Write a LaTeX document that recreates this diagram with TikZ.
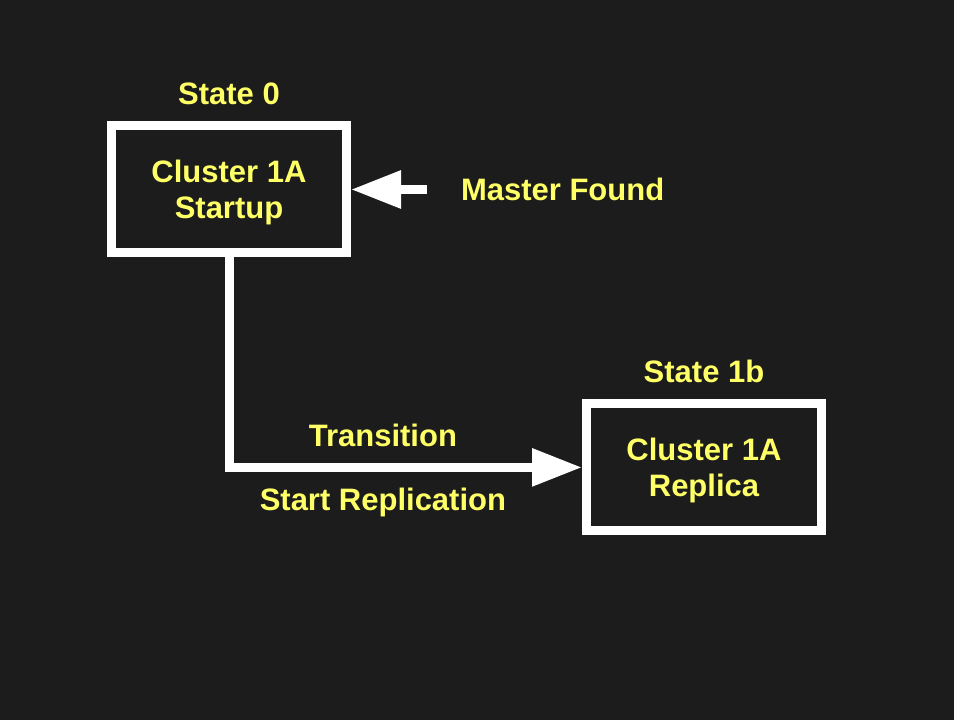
\documentclass[tikz,border=0pt]{standalone}
\usepackage{fontspec}
\setmainfont{Liberation Sans}
\usepackage{tikz}
\usetikzlibrary{positioning, arrows.meta}
\definecolor{bgdark}{HTML}{1C1C1C}
\definecolor{textyellow}{HTML}{FFFF66}
\tikzset{
    base/.style={font=\fontsize{31}{36}\selectfont\bfseries, text=textyellow, align=center},
    statebox/.style={base, draw=white, line width=9pt, rectangle, fill=bgdark, text depth=0pt, minimum width=235pt, minimum height=127pt},
    statelabel/.style={base, inner sep=0pt, outer sep=0pt},
    arrow/.style={-{Triangle[length=50pt, width=36pt]}, draw=white, line width=9pt}
}

\begin{document}
\begin{tikzpicture}[x=1pt, y=1pt]
    % Background
    \fill[bgdark] (0,0) rectangle (954,720);
    \useasboundingbox (0,0) rectangle (954,720);

    % State nodes
    \node [statebox] (startup) at (229, 530.5) {Cluster 1A\\Startup};
    \node [statebox] (replica) at (704, 252.6) {Cluster 1A\\Replica};
    \node [statelabel, above=17pt of startup] (state0) {State 0};
    \node [statelabel, above=16.5pt of replica] (state1b) {State 1b};

    % Incoming event
    \coordinate [right=76pt of startup.east] (mfstart);
    \node [statelabel, anchor=west, right=34pt of mfstart] (masterfound) {Master Found};

    % Connections
    \draw [arrow] (mfstart) -- (startup.east);
    \draw [arrow] (startup.south) |- (replica.west)
        node [statelabel, pos=0.718, above=21pt] (transition) {Transition}
        node [statelabel, pos=0.718, below=21pt] (startrep) {Start Replication};
\end{tikzpicture}
\end{document}
